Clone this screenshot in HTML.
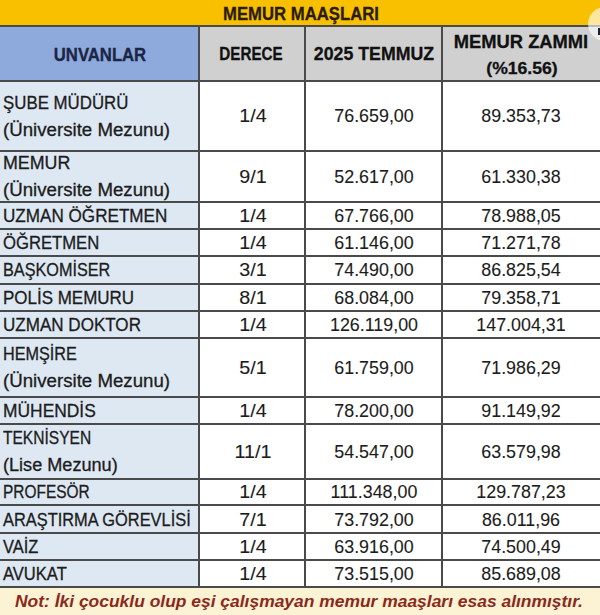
<!DOCTYPE html>
<html><head><meta charset="utf-8"><style>
html,body{margin:0;padding:0;}
body{width:600px;height:615px;overflow:hidden;position:relative;background:#fff;font-family:"Liberation Sans",sans-serif;}
.b{position:absolute;}
.t{position:absolute;white-space:nowrap;-webkit-text-stroke:0.3px currentColor;}
.t.ns{-webkit-text-stroke:0;}
.t.tn{-webkit-text-stroke:0.1px currentColor;}
</style></head><body>
<div class="b" style="left:0;top:0;width:600px;height:26px;background:#F9C000"></div>
<div class="b" style="left:0;top:26px;width:199px;height:55px;background:#8EA9DB"></div>
<div class="b" style="left:199px;top:26px;width:401px;height:55px;background:#D0D0D0"></div>
<div class="b" style="left:0;top:81px;width:199px;height:506px;background:#DEE8F3"></div>
<div class="b" style="left:0;top:587px;width:600px;height:28px;background:#FCF2D4"></div>
<div class="b" style="left:0;top:25.0px;width:600px;height:2px;background:#4a4a4a"></div>
<div class="b" style="left:0;top:79.5px;width:600px;height:2px;background:#4a4a4a"></div>
<div class="b" style="left:0;top:149.5px;width:600px;height:2px;background:#4a4a4a"></div>
<div class="b" style="left:0;top:200.5px;width:600px;height:2px;background:#4a4a4a"></div>
<div class="b" style="left:0;top:228.0px;width:600px;height:2px;background:#4a4a4a"></div>
<div class="b" style="left:0;top:255.0px;width:600px;height:2px;background:#4a4a4a"></div>
<div class="b" style="left:0;top:282.5px;width:600px;height:2px;background:#4a4a4a"></div>
<div class="b" style="left:0;top:309.5px;width:600px;height:2px;background:#4a4a4a"></div>
<div class="b" style="left:0;top:336.5px;width:600px;height:2px;background:#4a4a4a"></div>
<div class="b" style="left:0;top:395.7px;width:600px;height:2px;background:#4a4a4a"></div>
<div class="b" style="left:0;top:423.0px;width:600px;height:2px;background:#4a4a4a"></div>
<div class="b" style="left:0;top:477.5px;width:600px;height:2px;background:#4a4a4a"></div>
<div class="b" style="left:0;top:504.0px;width:600px;height:2px;background:#4a4a4a"></div>
<div class="b" style="left:0;top:531.8px;width:600px;height:2px;background:#4a4a4a"></div>
<div class="b" style="left:0;top:559.0px;width:600px;height:2px;background:#4a4a4a"></div>
<div class="b" style="left:0;top:586.0px;width:600px;height:2px;background:#4a4a4a"></div>
<div class="b" style="left:198.0px;top:26px;width:2px;height:561px;background:#4a4a4a"></div>
<div class="b" style="left:303.5px;top:26px;width:2px;height:561px;background:#4a4a4a"></div>
<div class="b" style="left:441.0px;top:26px;width:2px;height:561px;background:#4a4a4a"></div>
<div id="e0" class="t" style="left:0.50px;width:600px;text-align:center;top:6.01px;font-size:17.8px;line-height:17.8px;font-weight:bold;font-style:normal;color:#2a1c08;transform:scaleX(0.9394);">MEMUR MAAŞLARI</div>
<div id="e1" class="t" style="left:-200.10px;width:600px;text-align:center;top:47.01px;font-size:17.8px;line-height:17.8px;font-weight:bold;font-style:normal;color:#1b2545;transform:scaleX(0.9381);">UNVANLAR</div>
<div id="e2" class="t" style="left:-49.25px;width:600px;text-align:center;top:46.00px;font-size:17.8px;line-height:17.8px;font-weight:bold;font-style:normal;color:#111;transform:scaleX(0.8534);">DERECE</div>
<div id="e3" class="t" style="left:74.15px;width:600px;text-align:center;top:46.01px;font-size:17.8px;line-height:17.8px;font-weight:bold;font-style:normal;color:#111;transform:scaleX(0.9975);">2025 TEMMUZ</div>
<div id="e4" class="t" style="left:221.30px;width:600px;text-align:center;top:34.01px;font-size:17.8px;line-height:17.8px;font-weight:bold;font-style:normal;color:#111;transform:scaleX(1.0310);">MEMUR ZAMMI</div>
<div id="e5" class="t" style="left:221.70px;width:600px;text-align:center;top:60.02px;font-size:17.2px;line-height:17.2px;font-weight:bold;font-style:normal;color:#111;transform:scaleX(1.0232);">(%16.56)</div>
<div id="e6" class="t" style="left:3.00px;transform-origin:0 0;top:95.01px;font-size:17.6px;line-height:17.6px;font-weight:normal;font-style:normal;color:#1c1c1c;transform:scaleX(0.9574);">ŞUBE MÜDÜRÜ</div>
<div id="e7" class="t" style="left:3.00px;transform-origin:0 0;top:122.01px;font-size:17.6px;line-height:17.6px;font-weight:normal;font-style:normal;color:#1c1c1c;transform:scaleX(1.0609);">(Üniversite Mezunu)</div>
<div id="e8" class="t tn" style="left:-47.50px;width:600px;text-align:center;top:108.01px;font-size:17.6px;line-height:17.6px;font-weight:normal;font-style:normal;color:#1c1c1c;transform:scaleX(1.1200);">1/4</div>
<div id="e9" class="t tn" style="left:74.30px;width:600px;text-align:center;top:108.01px;font-size:17.6px;line-height:17.6px;font-weight:normal;font-style:normal;color:#1c1c1c;transform:scaleX(1.0150);">76.659,00</div>
<div id="e10" class="t tn" style="left:221.20px;width:600px;text-align:center;top:108.01px;font-size:17.6px;line-height:17.6px;font-weight:normal;font-style:normal;color:#1c1c1c;transform:scaleX(1.0150);">89.353,73</div>
<div id="e11" class="t" style="left:3.00px;transform-origin:0 0;top:155.01px;font-size:17.6px;line-height:17.6px;font-weight:normal;font-style:normal;color:#1c1c1c;transform:scaleX(1.0138);">MEMUR</div>
<div id="e12" class="t" style="left:3.00px;transform-origin:0 0;top:182.01px;font-size:17.6px;line-height:17.6px;font-weight:normal;font-style:normal;color:#1c1c1c;transform:scaleX(1.0609);">(Üniversite Mezunu)</div>
<div id="e13" class="t tn" style="left:-47.50px;width:600px;text-align:center;top:169.01px;font-size:17.6px;line-height:17.6px;font-weight:normal;font-style:normal;color:#1c1c1c;transform:scaleX(1.1200);">9/1</div>
<div id="e14" class="t tn" style="left:74.30px;width:600px;text-align:center;top:169.01px;font-size:17.6px;line-height:17.6px;font-weight:normal;font-style:normal;color:#1c1c1c;transform:scaleX(1.0150);">52.617,00</div>
<div id="e15" class="t tn" style="left:221.20px;width:600px;text-align:center;top:169.01px;font-size:17.6px;line-height:17.6px;font-weight:normal;font-style:normal;color:#1c1c1c;transform:scaleX(1.0150);">61.330,38</div>
<div id="e16" class="t" style="left:3.00px;transform-origin:0 0;top:208.01px;font-size:17.6px;line-height:17.6px;font-weight:normal;font-style:normal;color:#1c1c1c;transform:scaleX(0.9719);">UZMAN ÖĞRETMEN</div>
<div id="e17" class="t tn" style="left:-47.50px;width:600px;text-align:center;top:208.01px;font-size:17.6px;line-height:17.6px;font-weight:normal;font-style:normal;color:#1c1c1c;transform:scaleX(1.1200);">1/4</div>
<div id="e18" class="t tn" style="left:74.30px;width:600px;text-align:center;top:208.01px;font-size:17.6px;line-height:17.6px;font-weight:normal;font-style:normal;color:#1c1c1c;transform:scaleX(1.0150);">67.766,00</div>
<div id="e19" class="t tn" style="left:221.20px;width:600px;text-align:center;top:208.01px;font-size:17.6px;line-height:17.6px;font-weight:normal;font-style:normal;color:#1c1c1c;transform:scaleX(1.0150);">78.988,05</div>
<div id="e20" class="t" style="left:3.00px;transform-origin:0 0;top:235.01px;font-size:17.6px;line-height:17.6px;font-weight:normal;font-style:normal;color:#1c1c1c;transform:scaleX(0.9470);">ÖĞRETMEN</div>
<div id="e21" class="t tn" style="left:-47.50px;width:600px;text-align:center;top:235.01px;font-size:17.6px;line-height:17.6px;font-weight:normal;font-style:normal;color:#1c1c1c;transform:scaleX(1.1200);">1/4</div>
<div id="e22" class="t tn" style="left:74.30px;width:600px;text-align:center;top:235.01px;font-size:17.6px;line-height:17.6px;font-weight:normal;font-style:normal;color:#1c1c1c;transform:scaleX(1.0150);">61.146,00</div>
<div id="e23" class="t tn" style="left:221.20px;width:600px;text-align:center;top:235.01px;font-size:17.6px;line-height:17.6px;font-weight:normal;font-style:normal;color:#1c1c1c;transform:scaleX(1.0150);">71.271,78</div>
<div id="e24" class="t" style="left:3.00px;transform-origin:0 0;top:262.01px;font-size:17.6px;line-height:17.6px;font-weight:normal;font-style:normal;color:#1c1c1c;transform:scaleX(0.9217);">BAŞKOMİSER</div>
<div id="e25" class="t tn" style="left:-47.50px;width:600px;text-align:center;top:262.01px;font-size:17.6px;line-height:17.6px;font-weight:normal;font-style:normal;color:#1c1c1c;transform:scaleX(1.1200);">3/1</div>
<div id="e26" class="t tn" style="left:74.30px;width:600px;text-align:center;top:262.01px;font-size:17.6px;line-height:17.6px;font-weight:normal;font-style:normal;color:#1c1c1c;transform:scaleX(1.0150);">74.490,00</div>
<div id="e27" class="t tn" style="left:221.20px;width:600px;text-align:center;top:262.01px;font-size:17.6px;line-height:17.6px;font-weight:normal;font-style:normal;color:#1c1c1c;transform:scaleX(1.0150);">86.825,54</div>
<div id="e28" class="t" style="left:3.00px;transform-origin:0 0;top:290.01px;font-size:17.6px;line-height:17.6px;font-weight:normal;font-style:normal;color:#1c1c1c;transform:scaleX(0.9649);">POLİS MEMURU</div>
<div id="e29" class="t tn" style="left:-47.50px;width:600px;text-align:center;top:290.01px;font-size:17.6px;line-height:17.6px;font-weight:normal;font-style:normal;color:#1c1c1c;transform:scaleX(1.1200);">8/1</div>
<div id="e30" class="t tn" style="left:74.30px;width:600px;text-align:center;top:290.01px;font-size:17.6px;line-height:17.6px;font-weight:normal;font-style:normal;color:#1c1c1c;transform:scaleX(1.0150);">68.084,00</div>
<div id="e31" class="t tn" style="left:221.20px;width:600px;text-align:center;top:290.01px;font-size:17.6px;line-height:17.6px;font-weight:normal;font-style:normal;color:#1c1c1c;transform:scaleX(1.0150);">79.358,71</div>
<div id="e32" class="t" style="left:3.00px;transform-origin:0 0;top:317.01px;font-size:17.6px;line-height:17.6px;font-weight:normal;font-style:normal;color:#1c1c1c;transform:scaleX(0.9688);">UZMAN DOKTOR</div>
<div id="e33" class="t tn" style="left:-47.50px;width:600px;text-align:center;top:317.01px;font-size:17.6px;line-height:17.6px;font-weight:normal;font-style:normal;color:#1c1c1c;transform:scaleX(1.1200);">1/4</div>
<div id="e34" class="t tn" style="left:74.30px;width:600px;text-align:center;top:317.01px;font-size:17.6px;line-height:17.6px;font-weight:normal;font-style:normal;color:#1c1c1c;transform:scaleX(1.0150);">126.119,00</div>
<div id="e35" class="t tn" style="left:221.20px;width:600px;text-align:center;top:317.01px;font-size:17.6px;line-height:17.6px;font-weight:normal;font-style:normal;color:#1c1c1c;transform:scaleX(1.0150);">147.004,31</div>
<div id="e36" class="t" style="left:3.00px;transform-origin:0 0;top:346.00px;font-size:17.6px;line-height:17.6px;font-weight:normal;font-style:normal;color:#1c1c1c;transform:scaleX(0.9215);">HEMŞİRE</div>
<div id="e37" class="t" style="left:3.00px;transform-origin:0 0;top:373.00px;font-size:17.6px;line-height:17.6px;font-weight:normal;font-style:normal;color:#1c1c1c;transform:scaleX(1.0609);">(Üniversite Mezunu)</div>
<div id="e38" class="t tn" style="left:-47.50px;width:600px;text-align:center;top:360.00px;font-size:17.6px;line-height:17.6px;font-weight:normal;font-style:normal;color:#1c1c1c;transform:scaleX(1.1200);">5/1</div>
<div id="e39" class="t tn" style="left:74.30px;width:600px;text-align:center;top:360.00px;font-size:17.6px;line-height:17.6px;font-weight:normal;font-style:normal;color:#1c1c1c;transform:scaleX(1.0150);">61.759,00</div>
<div id="e40" class="t tn" style="left:221.20px;width:600px;text-align:center;top:360.00px;font-size:17.6px;line-height:17.6px;font-weight:normal;font-style:normal;color:#1c1c1c;transform:scaleX(1.0150);">71.986,29</div>
<div id="e41" class="t" style="left:3.00px;transform-origin:0 0;top:403.00px;font-size:17.6px;line-height:17.6px;font-weight:normal;font-style:normal;color:#1c1c1c;transform:scaleX(0.9891);">MÜHENDİS</div>
<div id="e42" class="t tn" style="left:-47.50px;width:600px;text-align:center;top:403.00px;font-size:17.6px;line-height:17.6px;font-weight:normal;font-style:normal;color:#1c1c1c;transform:scaleX(1.1200);">1/4</div>
<div id="e43" class="t tn" style="left:74.30px;width:600px;text-align:center;top:403.00px;font-size:17.6px;line-height:17.6px;font-weight:normal;font-style:normal;color:#1c1c1c;transform:scaleX(1.0150);">78.200,00</div>
<div id="e44" class="t tn" style="left:221.20px;width:600px;text-align:center;top:403.00px;font-size:17.6px;line-height:17.6px;font-weight:normal;font-style:normal;color:#1c1c1c;transform:scaleX(1.0150);">91.149,92</div>
<div id="e45" class="t" style="left:3.00px;transform-origin:0 0;top:430.01px;font-size:17.6px;line-height:17.6px;font-weight:normal;font-style:normal;color:#1c1c1c;transform:scaleX(0.8838);">TEKNİSYEN</div>
<div id="e46" class="t" style="left:3.00px;transform-origin:0 0;top:457.01px;font-size:17.6px;line-height:17.6px;font-weight:normal;font-style:normal;color:#1c1c1c;transform:scaleX(1.0291);">(Lise Mezunu)</div>
<div id="e47" class="t tn" style="left:-47.50px;width:600px;text-align:center;top:444.01px;font-size:17.6px;line-height:17.6px;font-weight:normal;font-style:normal;color:#1c1c1c;transform:scaleX(1.1200);">11/1</div>
<div id="e48" class="t tn" style="left:74.30px;width:600px;text-align:center;top:444.01px;font-size:17.6px;line-height:17.6px;font-weight:normal;font-style:normal;color:#1c1c1c;transform:scaleX(1.0150);">54.547,00</div>
<div id="e49" class="t tn" style="left:221.20px;width:600px;text-align:center;top:444.01px;font-size:17.6px;line-height:17.6px;font-weight:normal;font-style:normal;color:#1c1c1c;transform:scaleX(1.0150);">63.579,98</div>
<div id="e50" class="t" style="left:3.00px;transform-origin:0 0;top:484.01px;font-size:17.6px;line-height:17.6px;font-weight:normal;font-style:normal;color:#1c1c1c;transform:scaleX(0.8784);">PROFESÖR</div>
<div id="e51" class="t tn" style="left:-47.50px;width:600px;text-align:center;top:484.01px;font-size:17.6px;line-height:17.6px;font-weight:normal;font-style:normal;color:#1c1c1c;transform:scaleX(1.1200);">1/4</div>
<div id="e52" class="t tn" style="left:74.30px;width:600px;text-align:center;top:484.01px;font-size:17.6px;line-height:17.6px;font-weight:normal;font-style:normal;color:#1c1c1c;transform:scaleX(1.0150);">111.348,00</div>
<div id="e53" class="t tn" style="left:221.20px;width:600px;text-align:center;top:484.01px;font-size:17.6px;line-height:17.6px;font-weight:normal;font-style:normal;color:#1c1c1c;transform:scaleX(1.0150);">129.787,23</div>
<div id="e54" class="t" style="left:3.00px;transform-origin:0 0;top:512.00px;font-size:17.6px;line-height:17.6px;font-weight:normal;font-style:normal;color:#1c1c1c;transform:scaleX(0.9320);">ARAŞTIRMA GÖREVLİSİ</div>
<div id="e55" class="t tn" style="left:-47.50px;width:600px;text-align:center;top:512.00px;font-size:17.6px;line-height:17.6px;font-weight:normal;font-style:normal;color:#1c1c1c;transform:scaleX(1.1200);">7/1</div>
<div id="e56" class="t tn" style="left:74.30px;width:600px;text-align:center;top:512.00px;font-size:17.6px;line-height:17.6px;font-weight:normal;font-style:normal;color:#1c1c1c;transform:scaleX(1.0150);">73.792,00</div>
<div id="e57" class="t tn" style="left:221.20px;width:600px;text-align:center;top:512.00px;font-size:17.6px;line-height:17.6px;font-weight:normal;font-style:normal;color:#1c1c1c;transform:scaleX(1.0150);">86.011,96</div>
<div id="e58" class="t" style="left:3.00px;transform-origin:0 0;top:539.00px;font-size:17.6px;line-height:17.6px;font-weight:normal;font-style:normal;color:#1c1c1c;transform:scaleX(0.9342);">VAİZ</div>
<div id="e59" class="t tn" style="left:-47.50px;width:600px;text-align:center;top:539.00px;font-size:17.6px;line-height:17.6px;font-weight:normal;font-style:normal;color:#1c1c1c;transform:scaleX(1.1200);">1/4</div>
<div id="e60" class="t tn" style="left:74.30px;width:600px;text-align:center;top:539.00px;font-size:17.6px;line-height:17.6px;font-weight:normal;font-style:normal;color:#1c1c1c;transform:scaleX(1.0150);">63.916,00</div>
<div id="e61" class="t tn" style="left:221.20px;width:600px;text-align:center;top:539.00px;font-size:17.6px;line-height:17.6px;font-weight:normal;font-style:normal;color:#1c1c1c;transform:scaleX(1.0150);">74.500,49</div>
<div id="e62" class="t" style="left:3.00px;transform-origin:0 0;top:566.01px;font-size:17.6px;line-height:17.6px;font-weight:normal;font-style:normal;color:#1c1c1c;transform:scaleX(0.9412);">AVUKAT</div>
<div id="e63" class="t tn" style="left:-47.50px;width:600px;text-align:center;top:566.01px;font-size:17.6px;line-height:17.6px;font-weight:normal;font-style:normal;color:#1c1c1c;transform:scaleX(1.1200);">1/4</div>
<div id="e64" class="t tn" style="left:74.30px;width:600px;text-align:center;top:566.01px;font-size:17.6px;line-height:17.6px;font-weight:normal;font-style:normal;color:#1c1c1c;transform:scaleX(1.0150);">73.515,00</div>
<div id="e65" class="t tn" style="left:221.20px;width:600px;text-align:center;top:566.01px;font-size:17.6px;line-height:17.6px;font-weight:normal;font-style:normal;color:#1c1c1c;transform:scaleX(1.0150);">85.689,08</div>
<div id="e66" class="t ns" style="left:15.00px;transform-origin:0 0;top:593.00px;font-size:17.3px;line-height:17.3px;font-weight:bold;font-style:italic;color:#8a2a1c;transform:scaleX(1.0089);">Not: İki çocuklu olup eşi çalışmayan memur maaşları esas alınmıştır.</div>
<div class="b" style="left:588px;top:7px;width:34px;height:34px;border-radius:50%;background:rgba(255,255,255,0.62)"></div>
<div class="b" style="left:598px;top:28px;width:2px;height:7px;background:#1a2030"></div>
</body></html>
